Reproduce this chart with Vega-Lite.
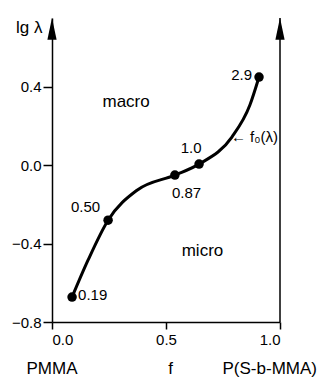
{
  "$schema": "https://vega.github.io/schema/vega-lite/v6.json",
  "autosize": "none",
  "width": 228,
  "height": 304,
  "padding": {"left": 52, "top": 18, "right": 46, "bottom": 56},
  "background": "white",
  "config": {"view": {"stroke": null}, "font": "Liberation Sans"},
  "datasets": {
    "curve": [
      {"f": 0.088, "lg": -0.673},
      {"f": 0.158, "lg": -0.485},
      {"f": 0.246, "lg": -0.281},
      {"f": 0.373, "lg": -0.128},
      {"f": 0.539, "lg": -0.051},
      {"f": 0.645, "lg": 0.005},
      {"f": 0.789, "lg": 0.143},
      {"f": 0.868, "lg": 0.306},
      {"f": 0.908, "lg": 0.449}
    ],
    "pts": [
      {"f": 0.088, "lg": -0.673, "lam": "0.19"},
      {"f": 0.246, "lg": -0.281, "lam": "0.50"},
      {"f": 0.539, "lg": -0.051, "lam": "0.87"},
      {"f": 0.645, "lg": 0.005, "lam": "1.0"},
      {"f": 0.908, "lg": 0.449, "lam": "2.9"}
    ],
    "notes": [
      {"f": 0.325, "lg": 0.32, "txt": "macro", "kind": "region"},
      {"f": 0.66, "lg": -0.44, "txt": "micro", "kind": "region"},
      {"f": 0.0, "lg": -1.04, "txt": "PMMA", "kind": "bottom"},
      {"f": 0.52, "lg": -1.04, "txt": "f", "kind": "bottom"},
      {"f": 0.955, "lg": -1.04, "txt": "P(S-b-MMA)", "kind": "bottom"},
      {"f": -0.1, "lg": 0.70, "txt": "lg λ", "kind": "ytitle"},
      {"f": 0.789, "lg": 0.143, "txt": "← f₀(λ)", "kind": "fo"}
    ],
    "arrows": [
      {"f": 0, "lg": 0.695},
      {"f": 1, "lg": 0.695}
    ],
    "frame": [
      {"f": 1, "lg": -0.8, "lg2": 0.75}
    ]
  },
  "encoding": {
    "x": {
      "field": "f", "type": "quantitative",
      "scale": {"domain": [0, 1], "nice": false},
      "axis": {
        "values": [0, 0.5, 1], "format": ".1f", "title": null, "grid": false,
        "domainColor": "black", "domainWidth": 1.5, "tickColor": "black", "tickWidth": 1.5,
        "tickSize": 7, "labelFontSize": 15, "labelColor": "black", "labelPadding": 3,
        "labelFont": "Liberation Sans"
      }
    },
    "y": {
      "field": "lg", "type": "quantitative",
      "scale": {"domain": [-0.8, 0.75], "nice": false, "zero": false},
      "axis": {
        "values": [-0.8, -0.4, 0.0, 0.4], "format": ".1f", "title": null, "grid": false,
        "domainColor": "black", "domainWidth": 1.5, "tickColor": "black", "tickWidth": 1.5,
        "tickSize": 9, "labelFontSize": 15, "labelColor": "black", "labelPadding": 2,
        "labelFont": "Liberation Sans"
      }
    }
  },
  "layer": [
    {
      "data": {"name": "frame"},
      "mark": {"type": "rule", "color": "black", "strokeWidth": 1.5},
      "encoding": {"y2": {"field": "lg2"}}
    },
    {
      "data": {"name": "arrows"},
      "mark": {"type": "point", "filled": true, "color": "black", "opacity": 1, "size": 484, "shape": "M0,-1L0.42,1L-0.42,1Z"}
    },
    {
      "data": {"name": "curve"},
      "mark": {"type": "line", "color": "black", "strokeWidth": 3, "interpolate": "monotone"}
    },
    {
      "data": {"name": "pts"},
      "mark": {"type": "circle", "color": "black", "opacity": 1, "size": 90}
    },
    {
      "data": {"name": "pts"},
      "transform": [{"filter": "datum.lam == '0.19'"}],
      "mark": {"type": "text", "align": "left", "baseline": "middle", "dx": 6, "dy": -2, "fontSize": 15},
      "encoding": {"text": {"field": "lam"}}
    },
    {
      "data": {"name": "pts"},
      "transform": [{"filter": "datum.lam == '0.50'"}],
      "mark": {"type": "text", "align": "right", "baseline": "middle", "dx": -8, "dy": -13, "fontSize": 15},
      "encoding": {"text": {"field": "lam"}}
    },
    {
      "data": {"name": "pts"},
      "transform": [{"filter": "datum.lam == '0.87'"}],
      "mark": {"type": "text", "align": "left", "baseline": "middle", "dx": -3, "dy": 18, "fontSize": 15},
      "encoding": {"text": {"field": "lam"}}
    },
    {
      "data": {"name": "pts"},
      "transform": [{"filter": "datum.lam == '1.0'"}],
      "mark": {"type": "text", "align": "center", "baseline": "middle", "dx": -8, "dy": -16, "fontSize": 15},
      "encoding": {"text": {"field": "lam"}}
    },
    {
      "data": {"name": "pts"},
      "transform": [{"filter": "datum.lam == '2.9'"}],
      "mark": {"type": "text", "align": "right", "baseline": "middle", "dx": -7, "dy": -2, "fontSize": 15},
      "encoding": {"text": {"field": "lam"}}
    },
    {
      "data": {"name": "notes"},
      "transform": [{"filter": "datum.kind == 'region' || datum.kind == 'bottom' || datum.kind == 'ytitle'"}],
      "mark": {"type": "text", "align": "center", "baseline": "middle", "fontSize": 17},
      "encoding": {"text": {"field": "txt"}}
    },
    {
      "data": {"name": "notes"},
      "transform": [{"filter": "datum.kind == 'fo'"}],
      "mark": {"type": "text", "align": "left", "baseline": "middle", "fontSize": 15, "dx": -1},
      "encoding": {"text": {"field": "txt"}}
    }
  ]
}
